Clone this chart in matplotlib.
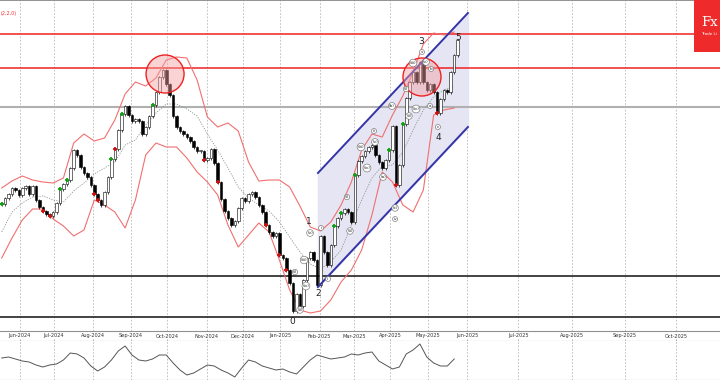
import numpy as np
import pandas as pd
import matplotlib
matplotlib.use('Agg')
import matplotlib.pyplot as plt
from matplotlib.patches import Ellipse, Rectangle

# daily bars, grouped by two trading days, first bar on this date
start = np.datetime64('2024-05-17')

closes = [127, 133, 137, 143, 141, 136, 143, 145, 137, 145,
          131, 124, 120, 117, 115, 119, 128, 142, 147, 151,
          163, 181, 176, 164, 158, 154, 146, 137, 131, 126,
          139, 154, 172, 182, 201, 217, 225, 216, 210, 212,
          210, 197, 204, 215, 226, 239, 254, 261, 247, 236,
          215, 204, 200, 197, 194, 190, 184, 180, 180, 171,
          173, 182, 168, 149, 132, 120, 113, 106, 110, 123,
          133, 130, 137, 139, 134, 126, 119, 106, 99, 95,
          98, 76, 73, 61, 48, 20, 37, 25, 51, 73,
          79, 71, 46, 95, 79, 66, 86, 105, 113, 118,
          122, 119, 109, 156, 170, 175, 180, 184, 186, 176,
          169, 163, 171, 181, 205, 146, 166, 207, 233, 249,
          259, 249, 269, 249, 241, 247, 239, 218, 232, 241,
          239, 259, 276, 291]

# bands read every third candle
band_upper = [143, 150, 155, 151, 149, 148, 153, 188, 197, 190, 193, 211, 237, 249, 245,
              253, 271, 274, 273, 251, 214, 204, 208, 200, 169, 150, 151, 151, 144, 125,
              104, 100, 109, 126, 149, 181, 197, 194, 216, 235, 259, 287, 298, 296, 299]
band_mid = [99, 119, 128, 134, 135, 131, 129, 140, 148, 157, 163, 169, 186, 191, 206,
            218, 227, 227, 222, 215, 197, 181, 163, 144, 133, 126, 120, 109, 94, 79,
            67, 62, 69, 81, 106, 131, 153, 165, 166, 179, 201, 221, 234, 241, 245]
band_lower = [73, 93, 111, 122, 122, 112, 105, 95, 101, 131, 126, 119, 103, 131, 176,
              188, 184, 184, 173, 159, 149, 136, 106, 84, 96, 108, 99, 71, 41, 21,
              18, 20, 31, 49, 61, 81, 116, 159, 149, 126, 119, 141, 216, 221, 223]

# oscillator read every second candle
osc = [22, 23, 21, 19, 18, 15, 13, 15, 16, 20, 27, 26, 22, 14, 9, 13, 20, 29, 34, 25,
       20, 19, 21, 25, 25, 17, 10, 5, 7, 11, 15, 14, 10, 7, 3, 12, 20, 18, 14, 12,
       10, 11, 8, 6, 13, 20, 25, 23, 21, 22, 23, 26, 25, 27, 28, 19, 15, 11, 13, 26,
       30, 36, 23, 17, 14, 14, 21]

green_marks = [0, 17, 19, 32, 35, 44, 97, 99, 103, 113, 117]
red_marks = [12, 14, 27, 28, 33, 59, 63, 77, 81, 83, 115, 127]

red_levels = [297, 263]
grey_levels = [224]
black_levels = [55, 14]

# channel (bar index, price)
chan_x = [185.5, 273.0]
chan_lo = [44, 204]
chan_hi = [158, 318]

# highlighted tops (bar index, price)
tops = [(96.3, 257), (246.2, 254)]

small_labels = [("(i)", 172.1, 59), ("(ii)", 175.0, 21), ("(iii)", 177.4, 71),
                ("(iv)", 178.5, 45), ("(v)", 180.9, 98), ("i", 187.3, 103),
                ("ii", 191.4, 52), ("(i)", 202.4, 134), ("(ii)", 204.2, 100),
                ("(iii)", 210.6, 184), ("(iv)", 214.1, 163), ("iii", 218.2, 200),
                ("(v)", 218.8, 189), ("(a)", 223.5, 154), ("(b)", 228.7, 225),
                ("(c)", 230.5, 123), ("iv", 230.5, 112), ("(i)", 236.9, 242),
                ("(ii)", 238.6, 215), ("(iii)", 241.0, 268), ("(iv)", 242.7, 222),
                ("(v)", 248.5, 269), ("v", 246.2, 279), ("a", 250.9, 225),
                ("b", 251.5, 262), ("c", 255.5, 204)]
wave_labels = [("0", 170.4, 10), ("1", 180.3, 109), ("2", 185.5, 38),
               ("3", 245.6, 290), ("4", 255.5, 194), ("5", 267.2, 294)]

n = len(closes)
xc = np.arange(n) * 2 + 1.0
opens = [closes[0]] + closes[:-1]

last_idx = 2 * n - 1
last_date = np.busday_offset(start, last_idx)
months = pd.date_range('2024-06-01', '2025-10-01', freq='MS')
tick_pos = []
for m in months:
    d = np.datetime64(m.date())
    if d <= last_date:
        tick_pos.append(np.busday_count(start, d) + 0.5)
    else:
        tick_pos.append(last_idx + (d - last_date).astype(int) + 0.5)
tick_lab = [m.strftime('%b-%Y') for m in months]

fig = plt.figure(figsize=(7.2, 3.8), dpi=100)
ax = fig.add_axes([0, 49 / 380, 1, 331 / 380])
axd = fig.add_axes([0, 39 / 380, 1, 10 / 380])
axo = fig.add_axes([0, 0, 1, 39 / 380])
xmax = 720 / 1.714

for a in (ax, axd, axo):
    a.set_xlim(0, xmax)
    a.set_xticks([])
    a.set_yticks([])
    for s in a.spines.values():
        s.set_visible(False)

ax.set_ylim(0, 331)
grid_kw = dict(color='#b8b8b8', lw=0.6, ls=(0, (2, 2)), zorder=0)
for t in tick_pos:
    ax.axvline(t, **grid_kw)
    axo.axvline(t, **grid_kw)
ax.axhline(331, color='#808080', lw=1.2)
ax.axhline(0, color='#a0a0a0', lw=0.8)

# channel
cx = np.array(chan_x)
ax.fill_between(cx, chan_lo, chan_hi, color='#e5e5f4', zorder=1)

for lv in red_levels:
    ax.axhline(lv, color='#ee2222', lw=1.1, zorder=2)
for lv in grey_levels:
    ax.axhline(lv, color='#b0b0b0', lw=1.5, zorder=2)
for lv in black_levels:
    ax.axhline(lv, color='#111111', lw=1.1, zorder=2)

xb = np.arange(len(band_upper)) * 6 + 1.0
ax.plot(xb, band_upper, color='#f07070', lw=0.8, zorder=3)
ax.plot(xb, band_lower, color='#f07070', lw=0.8, zorder=3)
ax.plot(xb, band_mid, color='#8a9a90', lw=0.6, ls=(0, (1.5, 1.5)), zorder=3)

for x, o, c in zip(xc, opens, closes):
    lo, hi = min(o, c), max(o, c)
    ax.vlines(x, lo - 1.5, hi + 1.5, color='black', lw=0.5, zorder=4)
    fc = 'white' if c >= o else 'black'
    ax.bar(x, max(hi - lo, 0.8), bottom=lo, width=1.5, color=fc,
           edgecolor='black', lw=0.4, zorder=4)

ax.plot(xc[green_marks], np.array(closes)[green_marks], '+', color='#12a012',
        ms=3.5, mew=1.3, zorder=5)
ax.plot(xc[red_marks], np.array(closes)[red_marks], '+', color='#cc1111',
        ms=3.5, mew=1.3, zorder=5)

ax.plot(cx, chan_lo, color='#3434a8', lw=1.4, zorder=5)
ax.plot(cx, chan_hi, color='#3434a8', lw=1.4, zorder=5)

for tx, ty in tops:
    ax.add_patch(Ellipse((tx, ty), 38 / 1.714, 38, fc='#f4a0a0', alpha=0.45,
                         ec='none', zorder=6))
    ax.add_patch(Ellipse((tx, ty), 38 / 1.714, 38, fc='none', ec='#ee2222',
                         lw=1.0, zorder=6))

for s, x, y in small_labels:
    ax.text(x, y, s, fontsize=3.0, ha='center', va='center', color='#222222',
            zorder=7, bbox=dict(boxstyle='circle,pad=0.12', fc='white',
                                ec='#666666', lw=0.4))
for s, x, y in wave_labels:
    ax.text(x, y, s, fontsize=6.5, ha='center', va='center', color='#222222',
            zorder=7)

ax.text(0.5, 318, '(2,2,0)', fontsize=3.5, color='#ee3333', va='center')

# date strip
axd.set_ylim(0, 1)
axd.axhline(1, color='#909090', lw=0.8)
axd.axhline(0.03, color='#909090', lw=0.8)
for t, s in zip(tick_pos, tick_lab):
    axd.text(t, 0.5, s, fontsize=3.6, ha='center', va='center', color='#333333')
    axd.vlines(t, 0, 0.25, color='#909090', lw=0.5)

# oscillator
axo.set_ylim(0, 39)
xo = np.arange(len(osc)) * 4 + 1.0
axo.plot(xo, osc, color='#555555', lw=0.7)
axo.axhline(0.3, color='#909090', lw=0.8)

# logo (cropped at the right edge in the original)
fig.patches.append(Rectangle((694 / 720, 1 - 52 / 380), 26 / 720, 52 / 380,
                             transform=fig.transFigure, fc='#ee2a2a', ec='none',
                             zorder=10))
fig.text(701 / 720, 1 - 23 / 380, 'Fx', fontsize=9.5, color='white',
         family='DejaVu Serif', va='center', ha='left', zorder=11)
fig.text(701 / 720, 1 - 34 / 380, 'Trade Li', fontsize=3.0, color='white',
         va='center', ha='left', zorder=11)

fig.savefig('out.png', dpi=100)
